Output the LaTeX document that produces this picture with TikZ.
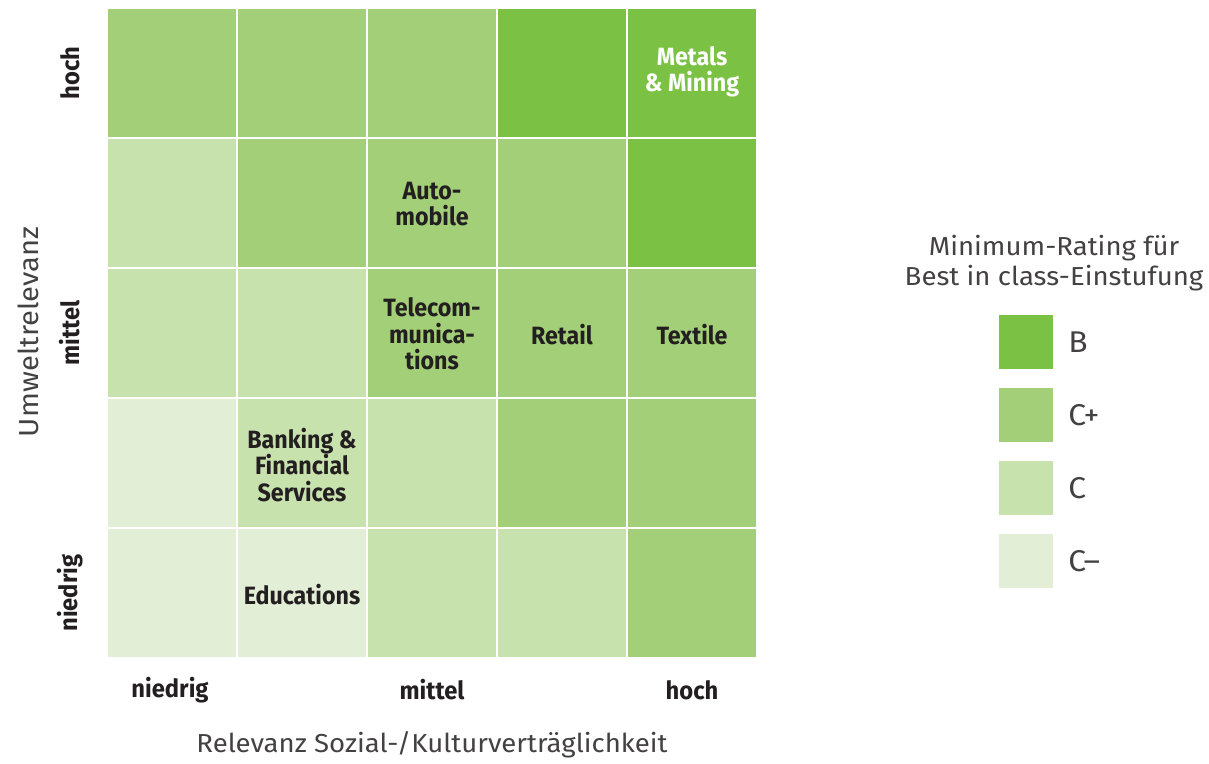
\documentclass[tikz,border=0pt]{standalone}
\usepackage{fontspec}
\setmainfont{Fira Sans}
\newfontfamily\condb[FakeStretch=0.93]{Fira Sans Bold}
\newfontfamily\axb[FakeStretch=0.95]{Fira Sans Bold}
\newfontfamily\condr[FakeStretch=1.06]{Fira Sans}
\definecolor{cB}{HTML}{7BC143}
\definecolor{cCp}{HTML}{A2CF77}
\definecolor{cC}{HTML}{C8E2AE}
\definecolor{cCm}{HTML}{E2EFD6}
\definecolor{txt}{HTML}{231F20}
\tikzset{
  cell/.style={fill=#1, draw=white, line width=2pt},
  lab/.style={font=\condb\fontsize{25}{26.5}\selectfont, text=txt, align=center, inner sep=0pt},
  wlab/.style={lab, text=white},
  axl/.style={font=\axb\fontsize{25}{26}\selectfont, text=txt, inner sep=0pt},
  ttl/.style={font=\condr\fontsize{26}{30}\selectfont, text=txt!85, align=center, inner sep=0pt},
  legsq/.style={fill=#1, draw=none, minimum width=54pt, minimum height=54pt, inner sep=0pt},
  legl/.style={font=\condr\fontsize{30}{32}\selectfont, text=txt!85, anchor=west, inner sep=0pt}
}
\begin{document}
\begin{tikzpicture}[x=1pt,y=-1pt]
\useasboundingbox[fill=white] (0,0) rectangle (1209,763);
% grid: columns x0=107, width 130; rows y0=8, height 130
\foreach \r/\cols in {0/{cCp,cCp,cCp,cB,cB},1/{cC,cCp,cCp,cCp,cB},2/{cC,cC,cCp,cCp,cCp},3/{cCm,cC,cC,cCp,cCp},4/{cCm,cCm,cC,cC,cCp}}{
  \foreach \c [count=\i from 0] in \cols {
    \path[cell=\c] ({107+130*\i},{8+130*\r}) rectangle ++(130,130);
  }
}
% cell labels
\node[wlab] (metals) at (692,72) {Metals\\\& Mining};
\node[lab] (auto) at (432,204) {Auto-\\mobile};
\node[lab] (tele) at (432,334) {Telecom-\\munica-\\tions};
\node[lab] (retail) at (562,335) {Retail};
\node[lab] (textile) at (692,335) {Textile};
\node[lab] (bank) at (302,465) {Banking \&\\Financial\\Services};
\node[lab] (edu) at (302,595) {Educations};
% x axis
\node[axl] (xn) at (170,690) {niedrig};
\node[axl] (xm) at (432,690) {mittel};
\node[axl] (xh) at (692,690) {hoch};
\node[ttl] (xt) at (432,745) {Relevanz Sozial-/Kulturverträglichkeit};
% y axis
\node[axl, rotate=90] (yh) at (70,73) {hoch};
\node[axl, rotate=90] (ym) at (70,333) {mittel};
\node[axl, rotate=90] (yn) at (70,593) {niedrig};
\node[ttl, font=\condr\fontsize{27.5}{30}\selectfont, rotate=90] (yt) at (28,332) {Umweltrelevanz};
% legend
\node[ttl] (lt) at (1054,263) {Minimum-Rating für\\Best in class-Einstufung};
\node[legsq=cB] (lB) at (1026,342) {};
\node[legsq=cCp] (lCp) at (1026,415) {};
\node[legsq=cC] (lC) at (1026,488) {};
\node[legsq=cCm] (lCm) at (1026,561) {};
\node[legl] at ([xshift=15pt]lB.east) {B};
\node[legl] at ([xshift=15pt]lCp.east) {C+};
\node[legl] at ([xshift=15pt]lC.east) {C};
\node[legl] at ([xshift=15pt]lCm.east) {C–};
\end{tikzpicture}
\end{document}
